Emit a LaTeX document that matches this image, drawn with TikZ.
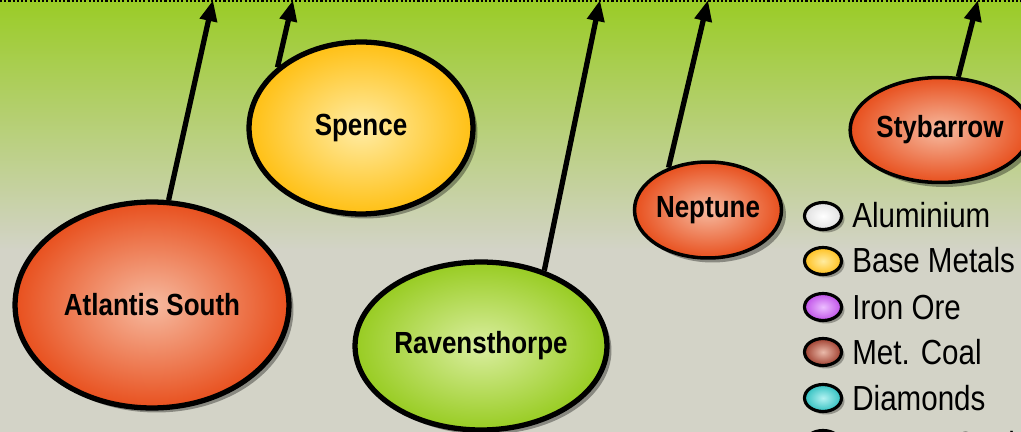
\documentclass[tikz,border=0pt]{standalone}
\usepackage{fontspec}
\setmainfont{Liberation Sans}[FakeStretch=0.85]
\usetikzlibrary{shapes.geometric,shadows,arrows.meta}
\definecolor{bggreen}{RGB}{154,204,38}
\definecolor{bggray}{RGB}{211,211,199}
\tikzset{
	mine/.style = {ellipse, draw = black, line width = 3pt, inner sep = 0pt,
		font = \fontsize{17.4}{20}\selectfont\bfseries,
		drop shadow = {shadow xshift = 0.09cm, shadow yshift = -0.09cm, fill = black, opacity = 0.35}},
	redmine/.style = {mine, inner color = {rgb,255:red,246;green,186;blue,160}, outer color = {rgb,255:red,232;green,80;blue,30}},
	yellowmine/.style = {mine, inner color = {rgb,255:red,255;green,236;blue,165}, outer color = {rgb,255:red,255;green,192;blue,20}},
	greenmine/.style = {mine, inner color = {rgb,255:red,218;green,238;blue,160}, outer color = {rgb,255:red,152;green,204;blue,34}},
	keyblob/.style = {ellipse, draw = black, line width = 1.8pt, inner sep = 0pt,
		minimum width = 0.74cm, minimum height = 0.54cm,
		drop shadow = {shadow xshift = 0.06cm, shadow yshift = -0.06cm, fill = black, opacity = 0.3}},
	keytext/.style = {anchor = base west, inner sep = 0pt, font = \fontsize{19.8}{22}\selectfont},
	link/.style = {line width = 3pt, -{Triangle[length = 12pt, width = 9.5pt]}}
}
\begin{document}
\begin{tikzpicture} [x = 0.02cm, y = -0.02cm]
	\useasboundingbox (0,0) rectangle (1021,432);
	\clip (0,0) rectangle (1021,432);
	% background
	\shade[top color = bggreen, bottom color = bggray] (0,0) rectangle (1021,250);
	\fill[bggray] (0,249) rectangle (1021,432);
	\draw[line width = 1.2pt, dash pattern = on 1.2pt off 1.2pt] (0,1) -- (1021,1);
	% projects
	\node[redmine, minimum width = 5.48cm, minimum height = 4.12cm] (atlantis) at (152,305) {Atlantis South};
	\node[yellowmine, minimum width = 4.48cm, minimum height = 3.44cm] (spence) at (361,128) {Spence};
	\node[greenmine, minimum width = 5.04cm, minimum height = 3.36cm] (ravens) at (481,346) {Ravensthorpe};
	\node[redmine, line width = 2pt, minimum width = 2.84cm, minimum height = 1.92cm] (neptune) at (708,210) {Neptune};
	\node[redmine, line width = 2pt, minimum width = 3.08cm, minimum height = 2.1cm] (stybarrow) at (940,130) {Stybarrow};
	% arrows to the top
	\coordinate (topA) at (213,0);
	\coordinate (topS) at (293,0);
	\coordinate (topR) at (600,0);
	\coordinate (topN) at (708,0);
	\coordinate (topY) at (978,0);
	\draw[link] (atlantis.81) -- (topA);
	\draw[link] (spence.144) -- (topS);
	\draw[link] (ravens.50) -- (topR);
	\draw[link] (neptune.133) -- (topN);
	\draw[link] (stybarrow.71) -- (topY);
	% legend
	\foreach \y/\name/\lab/\ic/\oc in {
		216/alu/Aluminium/white/black!12,
		261/base/Base Metals/{rgb,255:red,255;green,236;blue,160}/{rgb,255:red,255;green,192;blue,30},
		307/iron/Iron Ore/{rgb,255:red,236;green,190;blue,255}/{rgb,255:red,192;green,80;blue,232},
		352/coal/Met. Coal/{rgb,255:red,234;green,186;blue,170}/{rgb,255:red,160;green,64;blue,48},
		398/diam/Diamonds/{rgb,255:red,180;green,242;blue,242}/{rgb,255:red,48;green,192;blue,192},
		444/energy/Energy Coal/black!45/black}
	{
		\node[keyblob, inner color = \ic, outer color = \oc] (key\name) at (823,\y) {};
		\node[keytext] (txt\name) at (852,\y+12) {\lab};
	}
\end{tikzpicture}
\end{document}
